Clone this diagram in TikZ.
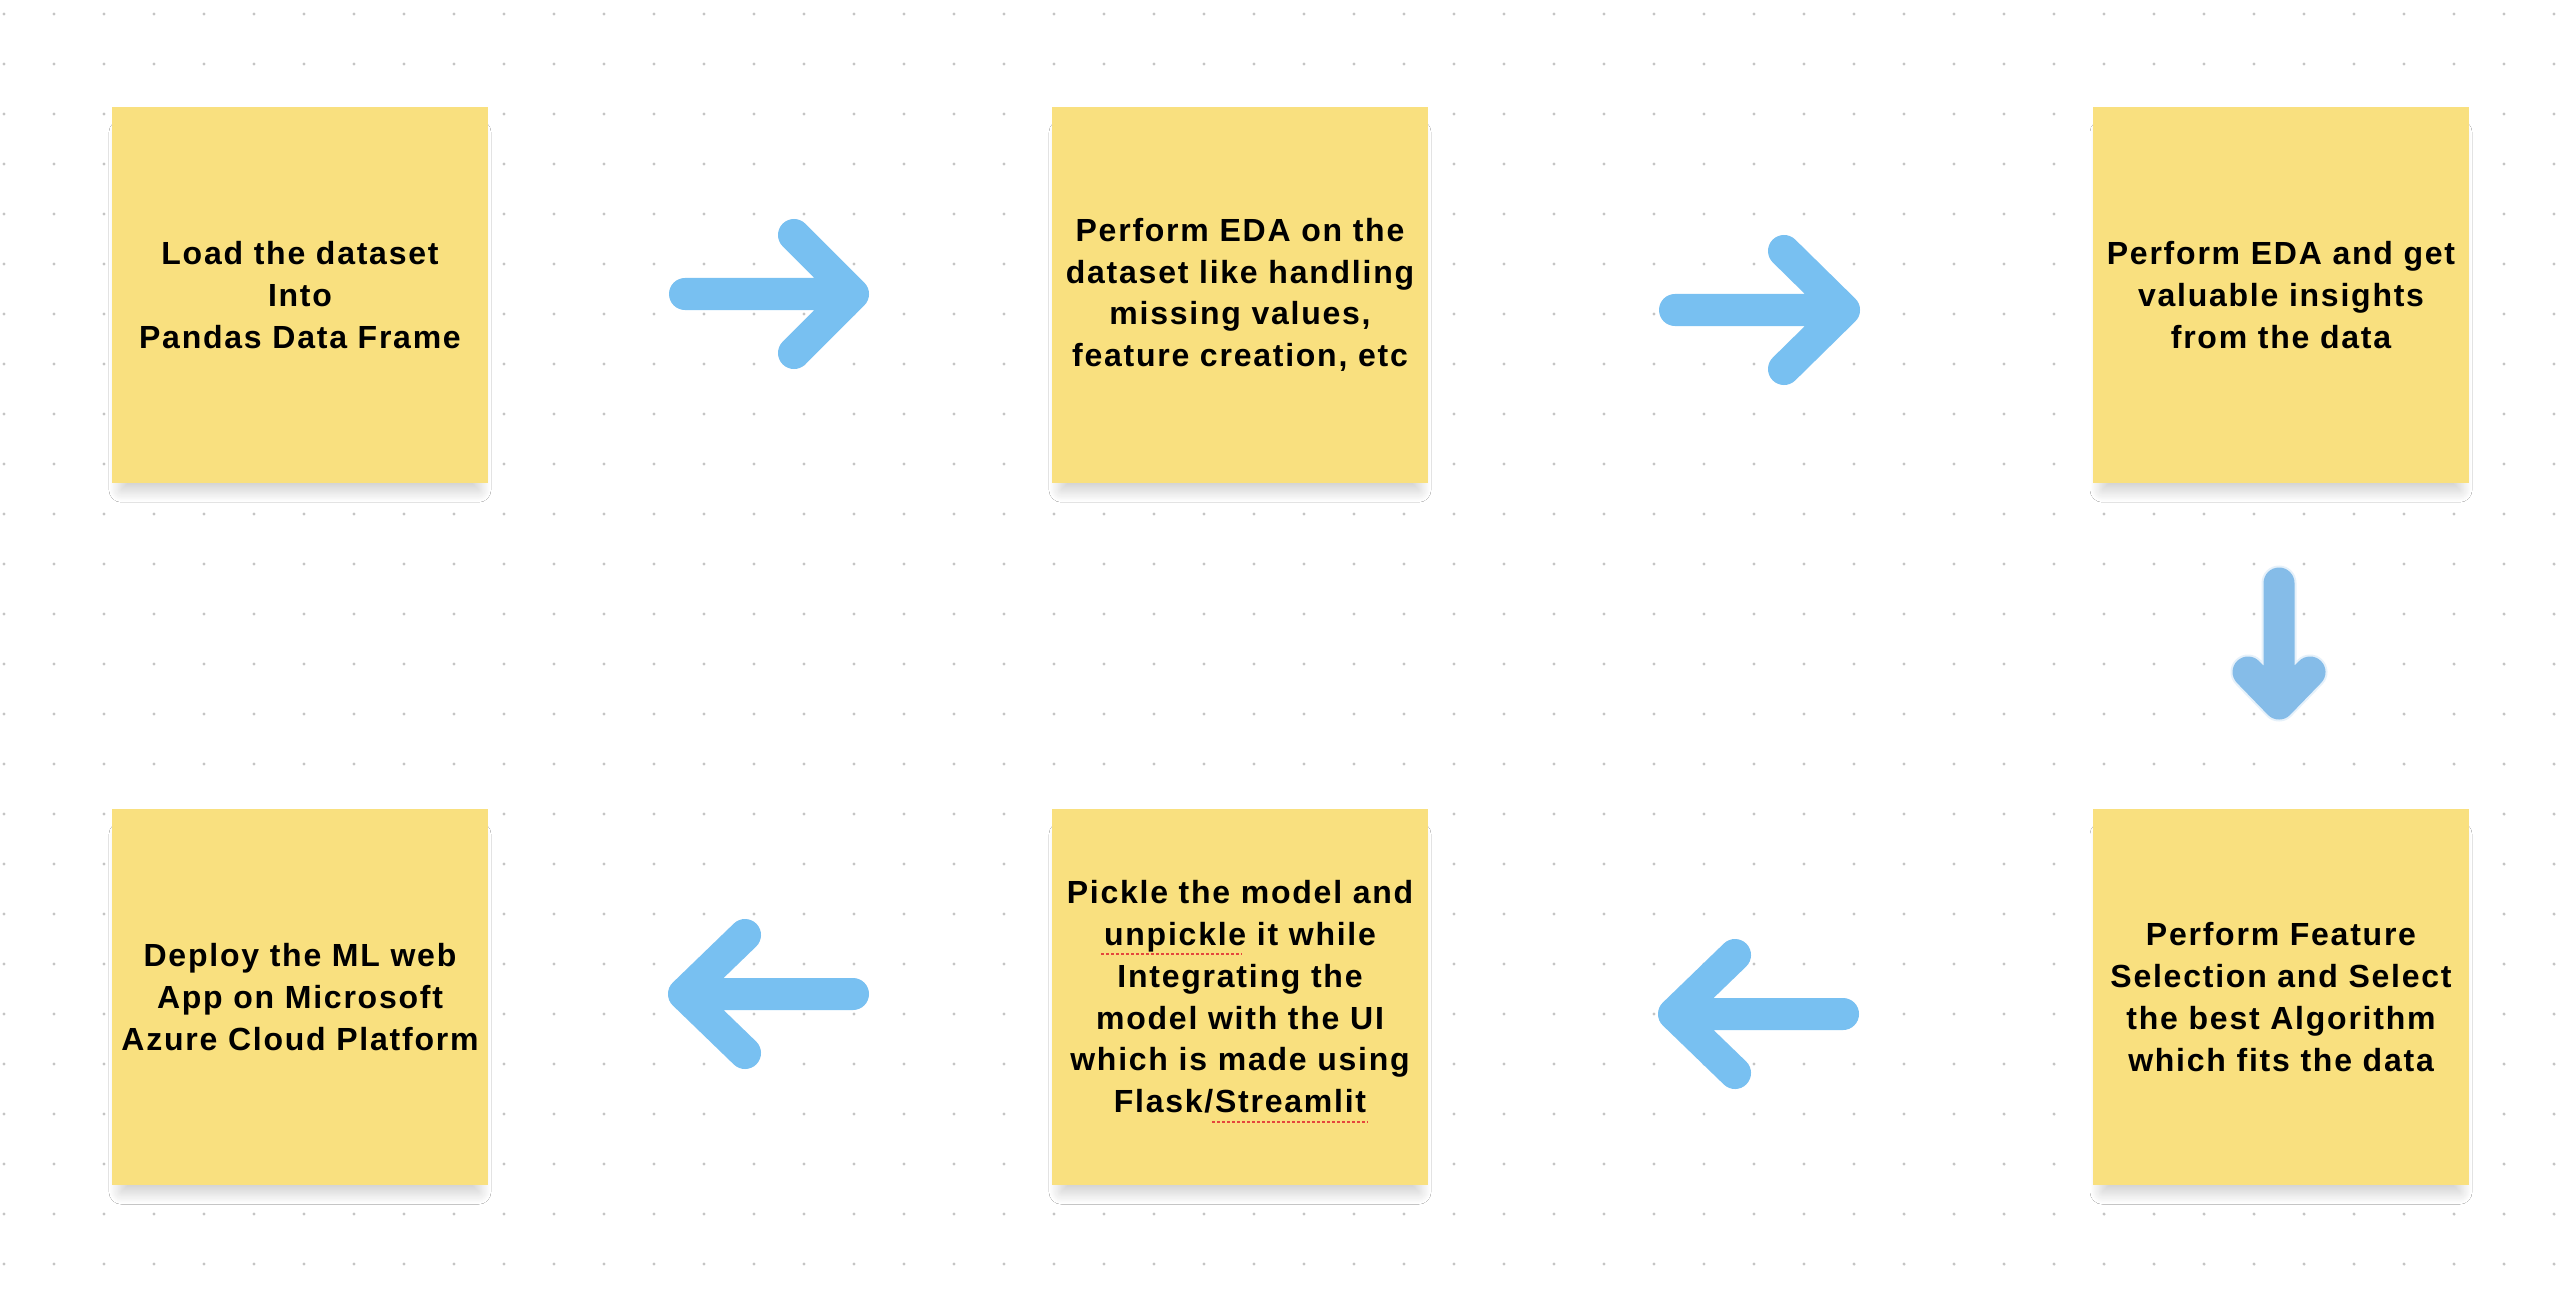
\documentclass[tikz,border=0pt]{standalone}
\usepackage{fontspec}
\usepackage{tikz}
\usetikzlibrary{calc, shadows.blur}
\newfontfamily\notefont{Liberation Sans}[LetterSpace=5.5]
\definecolor{noteyellow}{HTML}{F9E07F}
\definecolor{flowblue}{HTML}{78C0F1}
\definecolor{softblue}{HTML}{85BCE8}
\definecolor{dotgray}{HTML}{C4C4C4}
\definecolor{spellred}{HTML}{E4473C}

\begin{document}
\begin{tikzpicture}[x=0.01cm, y=-0.01cm,
    note/.style={fill=noteyellow, minimum width=3.76cm, minimum height=3.76cm,
        align=center, inner sep=0pt,
        font=\notefont\bfseries\fontsize{9.1pt}{11.87pt}\selectfont,
        blur shadow={shadow xshift=0cm, shadow yshift=-0.17cm, shadow scale=0.95,
            shadow blur radius=0.13cm, shadow blur steps=30, shadow opacity=22}},
    flow/.style={draw=flowblue, line width=0.32cm, line cap=round, line join=round},
    spell/.style={draw=spellred, line width=0.02cm, dash pattern=on 0.03cm off 0.02cm}]
            \useasboundingbox (0,0) rectangle (2564,1306);
            \fill[white] (0,0) rectangle (2564,1306);
            % dot grid
            \foreach \i in {0,...,51}
                \foreach \j in {0,...,25}
                    \fill[dotgray] (4+50*\i, 14+50*\j) circle (0.017cm);
            % notes
            \node[note] (load) at (300,295) {Load the dataset\\Into\\Pandas Data Frame};
            \node[note] (clean) at (1240,295) {Perform EDA on the\\dataset like handling\\missing values,\\feature creation, etc};
            \node[note] (insight) at (2281,295) {Perform EDA and get\\valuable insights\\from the data};
            \node[note] (select) at (2281,997) {Perform Feature\\Selection and Select\\the best Algorithm\\which fits the data};
            \node[note] (pickle) at (1240,997) {Pickle the model and\\unpickle it while\\Integrating the\\model with the UI\\which is made using\\Flask/Streamlit};
            \node[note] (deploy) at (300,997) {Deploy the ML web\\App on Microsoft\\Azure Cloud Platform};
            % spell check marks
            \draw[spell] (1101,954) -- (1242,954);
            \draw[spell] (1212,1122) -- (1368,1122);
            % arrows
            \coordinate (a1s) at (685,294);
            \coordinate (a1e) at (853,294);
            \coordinate (a2s) at (1675,310);
            \coordinate (a2e) at (1844,310);
            \coordinate (a3s) at (2279,583);
            \coordinate (a3e) at (2279,704);
            \coordinate (a4s) at (1843,1014);
            \coordinate (a4e) at (1674,1014);
            \coordinate (a5s) at (853,994);
            \coordinate (a5e) at (684,994);
            \draw[flow] (a1s) -- (a1e) ($(a1e)+(-59,-59)$) -- (a1e) -- ($(a1e)+(-59,59)$);
            \draw[flow] (a2s) -- (a2e) ($(a2e)+(-60,-59)$) -- (a2e) -- ($(a2e)+(-60,59)$);
            \draw[flow, draw=softblue, line width=0.35cm, opacity=0.2] (a3s) -- (a3e) ($(a3e)+(-31,-32)$) -- (a3e) -- ($(a3e)+(31,-32)$);
            \draw[flow, draw=softblue, line width=0.31cm] (a3s) -- (a3e) ($(a3e)+(-31,-32)$) -- (a3e) -- ($(a3e)+(31,-32)$);
            \draw[flow] (a4s) -- (a4e) ($(a4e)+(61,-59)$) -- (a4e) -- ($(a4e)+(61,59)$);
            \draw[flow] (a5s) -- (a5e) ($(a5e)+(61,-59)$) -- (a5e) -- ($(a5e)+(61,59)$);
        \end{tikzpicture}
\end{document}
